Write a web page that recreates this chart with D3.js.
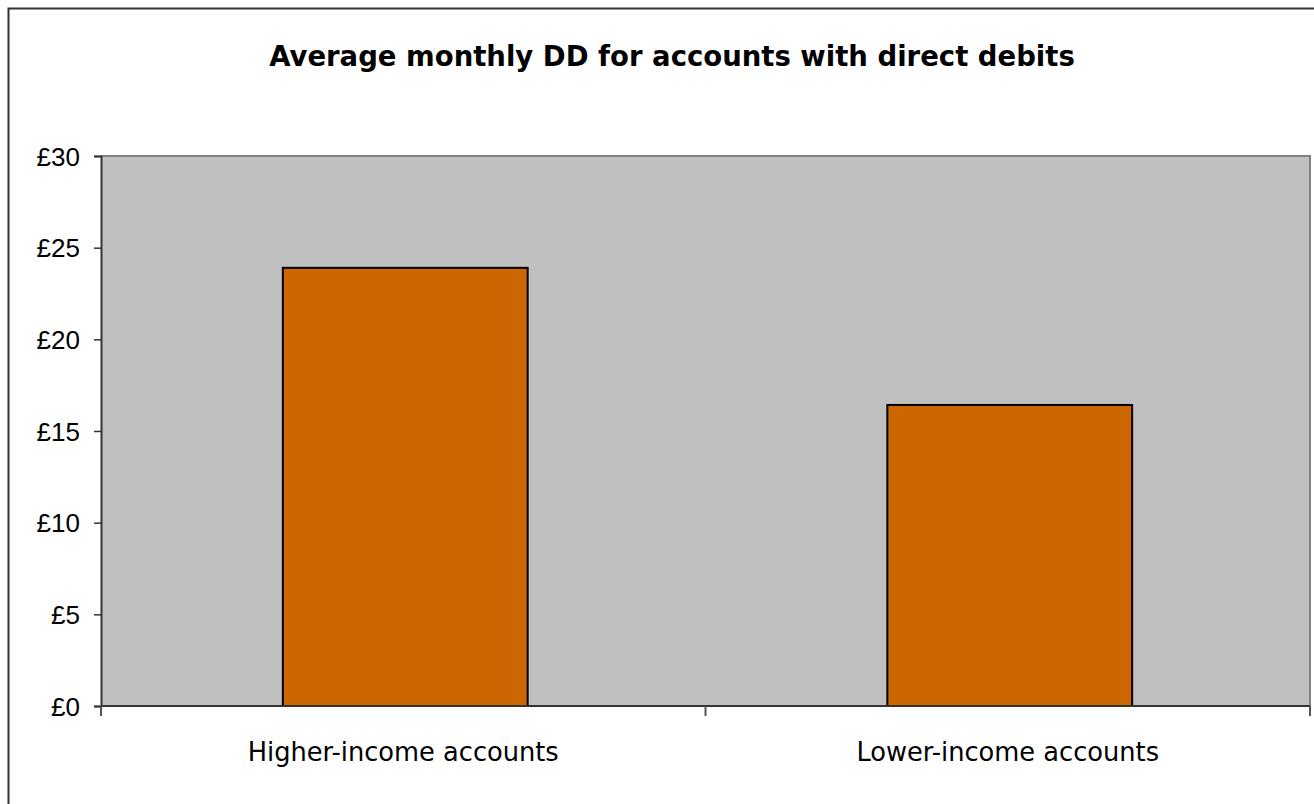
<!DOCTYPE html>
<html>
<head>
<meta charset="utf-8">
<script src="https://cdn.jsdelivr.net/npm/d3@7"></script>
<style>
  html, body { margin: 0; padding: 0; background: #fff; }
  svg { display: block; }
</style>
</head>
<body>
<svg id="chart" width="1314" height="804"></svg>
<script>
const title = "Average monthly DD for accounts with direct debits";
const categories = ["Higher-income accounts", "Lower-income accounts"];
const values = [23.9, 16.42];
const yTicks = [0, 5, 10, 15, 20, 25, 30];
const yTickLabels = ["£0", "£5", "£10", "£15", "£20", "£25", "£30"];

const svg = d3.select("#chart");
const W = 1314, H = 804;
const plot = { left: 101, right: 1310, top: 156, bottom: 706 };

// outer frame
svg.append("rect")
  .attr("x", 8.5).attr("y", 8.5)
  .attr("width", W + 20).attr("height", H + 20)
  .attr("fill", "#fff").attr("stroke", "#333").attr("stroke-width", 2);

svg.append("text")
  .attr("x", 672).attr("y", 66)
  .attr("text-anchor", "middle")
  .attr("font-family", "DejaVu Sans, Verdana, sans-serif")
  .attr("font-weight", "bold")
  .attr("font-size", 27.5)
  .attr("fill", "#000")
  .text(title);

const x = d3.scaleBand()
  .domain(categories)
  .range([plot.left + 2, plot.right + 2])
  .paddingInner(0.595)
  .paddingOuter(0.2975);

const xCat = d3.scaleBand().domain(categories).range([plot.left, plot.right]).padding(0);

const y = d3.scaleLinear().domain([0, 30]).range([plot.bottom, plot.top]);

// plot background
svg.append("rect")
  .attr("x", plot.left).attr("y", plot.top)
  .attr("width", plot.right - plot.left).attr("height", plot.bottom - plot.top)
  .attr("fill", "#C0C0C0");

// top/right border
svg.append("path")
  .attr("d", `M${plot.left},${plot.top}H${plot.right}V${plot.bottom}`)
  .attr("fill", "none").attr("stroke", "#808080").attr("stroke-width", 2);

// bars
svg.selectAll("rect.bar")
  .data(categories)
  .enter().append("rect")
  .attr("class", "bar")
  .attr("x", d => x(d))
  .attr("width", x.bandwidth())
  .attr("y", (d, i) => y(values[i]))
  .attr("height", (d, i) => y(0) - y(values[i]))
  .attr("fill", "#CC6600")
  .attr("stroke", "#000")
  .attr("stroke-width", 2);

// y axis
const yAxis = d3.axisLeft(y)
  .tickValues(yTicks)
  .tickFormat((d, i) => yTickLabels[i])
  .tickSize(7)
  .tickPadding(14);
const gy = svg.append("g").attr("transform", `translate(${plot.left},0)`).call(yAxis);
gy.select(".domain").attr("stroke", "#333").attr("stroke-width", 2);
gy.selectAll(".tick line").attr("stroke", "#333").attr("stroke-width", 1.5);
gy.selectAll(".tick text")
  .attr("font-family", "Liberation Sans, Arial, sans-serif")
  .attr("font-size", 26)
  .attr("fill", "#000")
  .attr("dy", "0.35em");

// x axis
const boundaries = [plot.left, ...categories.map(c => xCat(c) + xCat.bandwidth())];
const gx = svg.append("g").attr("transform", `translate(0,${plot.bottom})`);
gx.append("line")
  .attr("x1", plot.left).attr("x2", plot.right)
  .attr("stroke", "#333").attr("stroke-width", 2);
gx.selectAll("line.tk").data(boundaries).enter().append("line")
  .attr("class", "tk")
  .attr("x1", d => d).attr("x2", d => d)
  .attr("y1", 0).attr("y2", 10)
  .attr("stroke", "#555").attr("stroke-width", 2);
gx.selectAll("text").data(categories).enter().append("text")
  .attr("x", d => xCat(d) + xCat.bandwidth() / 2)
  .attr("y", 55)
  .attr("text-anchor", "middle")
  .attr("font-family", "DejaVu Sans, Verdana, sans-serif")
  .attr("font-size", 25.7)
  .attr("fill", "#000")
  .text(d => d);
</script>
</body>
</html>
